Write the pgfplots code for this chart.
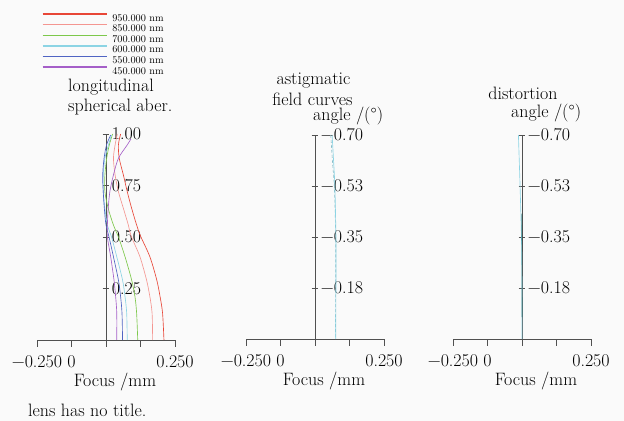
\documentclass[border=0pt]{standalone}
\usepackage{pgfplots}
\pgfplotsset{compat=1.18}
\definecolor{c950}{RGB}{232,70,55}
\definecolor{c850}{RGB}{244,150,145}
\definecolor{c700}{RGB}{125,200,75}
\definecolor{c600}{RGB}{140,212,228}
\definecolor{c550}{RGB}{80,100,195}
\definecolor{c450}{RGB}{165,95,200}
\definecolor{axgray}{RGB}{80,80,80}
\definecolor{bgcol}{RGB}{250,250,250}
\pgfplotsset{
  myaxis/.style={
    scale only axis, width=138bp,
    xmin=-0.25, xmax=0.25, ymin=0,
    axis x line=bottom, axis y line=center,
    axis line style={-, draw=axgray, line width=0.7pt},
    xtick={-0.25,-0.125,0,0.125,0.25},
    xticklabels={{−0.250},{0},{},{},{0.250}},
    hide obscured x ticks=false,
    hide obscured y ticks=false,
    tick align=center, major tick length=6.6bp,
    every tick/.style={draw=axgray, line width=0.7pt},
    x tick style={yshift=-3.3bp},
    every x tick label/.style={anchor=north, yshift=-12bp, inner sep=0pt},
    yticklabel style={anchor=west, inner sep=0pt, xshift=9bp},
    xlabel={Focus /mm},
    xlabel style={at={(axis description cs:0.5,0)}, anchor=base, yshift=-46bp, inner sep=0pt},
    clip=false,
  },
}
\begin{document}
\fontsize{18}{21.6}\selectfont
\begin{tikzpicture}[font=\fontsize{18}{21.6}\selectfont]
\fill[bgcol] (0,0) rectangle (624bp,421bp);
\path[use as bounding box] (0,0) rectangle (624bp,421bp);

% ---- longitudinal spherical aberration
\begin{axis}[myaxis, at={(37bp,81bp)}, anchor=south west,
  height=206bp, ymax=1,
  ytick={0.25,0.5,0.75,1}, yticklabels={0.25,0.50,0.75,1.00},
  xlabel style={xshift=9bp},
  legend style={at={(axis description cs:0.036,1.585)}, anchor=north west,
    draw=none, fill=none, inner sep=0pt, outer sep=0pt,
    font=\fontsize{10.3}{11}\selectfont,
    nodes={inner sep=0pt, text height=7bp, text depth=0bp},
    row sep=2.95bp,
    /tikz/every odd column/.append style={column sep=5bp}},
  legend cell align=left,
  legend image code/.code={\draw[#1, line width=1.3pt] (0bp,3.5bp) -- (64bp,3.5bp);},
]
\addplot[c950, line width=0.65pt, smooth] coordinates {
(0.210,0) (0.205,0.13) (0.196,0.21) (0.184,0.291) (0.159,0.404) (0.125,0.505)
(0.111,0.558) (0.093,0.639) (0.077,0.72) (0.063,0.801) (0.048,0.882) (0.045,0.947) (0.053,1.0)};
\addplot[c850, line width=0.65pt, smooth] coordinates {
(0.169,0) (0.167,0.13) (0.159,0.21) (0.147,0.291) (0.123,0.404) (0.091,0.505)
(0.081,0.558) (0.063,0.639) (0.045,0.72) (0.033,0.801) (0.027,0.882) (0.033,0.947) (0.041,1.0)};
\addplot[c700, line width=0.65pt, smooth] coordinates {
(0.115,0) (0.111,0.13) (0.105,0.21) (0.093,0.291) (0.069,0.404) (0.045,0.50)
(0.027,0.558) (0.008,0.639) (-0.004,0.72) (-0.004,0.801) (0.0025,0.882) (0.012,0.947) (0.024,1.0)};
\addplot[c600, line width=0.65pt, smooth] coordinates {
(0.077,0) (0.075,0.13) (0.069,0.21) (0.060,0.291) (0.039,0.404) (0.020,0.50)
(0.005,0.558) (-0.004,0.639) (-0.010,0.72) (-0.010,0.801) (-0.004,0.882) (0.009,0.947) (0.020,0.995)};
\addplot[c550, line width=0.65pt, smooth] coordinates {
(0.060,0) (0.058,0.13) (0.053,0.21) (0.045,0.291) (0.027,0.404) (0.011,0.50)
(0.0,0.558) (-0.006,0.639) (-0.010,0.72) (-0.012,0.801) (-0.007,0.882) (0.002,0.947) (0.017,0.995)};
\addplot[c450, line width=0.65pt, smooth] coordinates {
(0.039,0) (0.039,0.13) (0.035,0.21) (0.029,0.291) (0.017,0.404) (0.005,0.50)
(0.005,0.558) (0.008,0.639) (0.014,0.72) (0.027,0.801) (0.045,0.882) (0.077,0.947) (0.090,0.975)};
\legend{950.000 nm, 850.000 nm, 700.000 nm, 600.000 nm, 550.000 nm, 450.000 nm}
\end{axis}

% ---- astigmatic field curves
\begin{axis}[myaxis, at={(246bp,82bp)}, anchor=south west,
  height=204bp, ymax=0.7,
  ytick={0.175,0.35,0.525,0.70}, yticklabels={−0.18,−0.35,−0.53,−0.70},
  xlabel style={xshift=9bp},
]
\addplot[c600!70!gray, line width=0.6pt, densely dashed, smooth] coordinates {
(0.057,0.70) (0.064,0.60) (0.070,0.525) (0.074,0.40) (0.075,0.35) (0.075,0.2) (0.074,0)};
\addplot[c600, line width=0.65pt, smooth] coordinates {
(0.062,0.70) (0.068,0.60) (0.072,0.525) (0.075,0.40) (0.076,0.35) (0.076,0.2) (0.075,0)};
\end{axis}

% ---- distortion
\begin{axis}[myaxis, at={(453bp,82bp)}, anchor=south west,
  height=204bp, ymax=0.7,
  ytick={0.175,0.35,0.525,0.70}, yticklabels={−0.18,−0.35,−0.53,−0.70},
  xlabel style={xshift=14bp},
]
\addplot[c600, line width=0.65pt, smooth] coordinates {
(-0.013,0.70) (-0.007,0.525) (-0.002,0.35) (0,0.175) (0,0)};
\addplot[teal!70!black, opacity=0.6, line width=0.6pt] coordinates {
(-0.001,0.43) (0,0.075)};
\end{axis}

% ---- titles
\node[anchor=base west, inner sep=0pt] at (68bp,329bp) {longitudinal};
\node[anchor=base west, inner sep=0pt] at (68bp,309bp) {spherical aber.};
\node[anchor=base, inner sep=0pt] at (313.5bp,336bp) {astigmatic};
\node[anchor=base, inner sep=0pt] at (312.5bp,315bp) {field curves};
\node[anchor=base west, inner sep=0pt] at (313bp,300bp) {angle /(°)};
\node[anchor=base, inner sep=0pt] at (523bp,321bp) {distortion};
\node[anchor=base west, inner sep=0pt] at (511bp,303bp) {angle /(°)};
\node[anchor=base west, inner sep=0pt] at (28bp,5bp) {lens has no title.};
\end{tikzpicture}
\end{document}
